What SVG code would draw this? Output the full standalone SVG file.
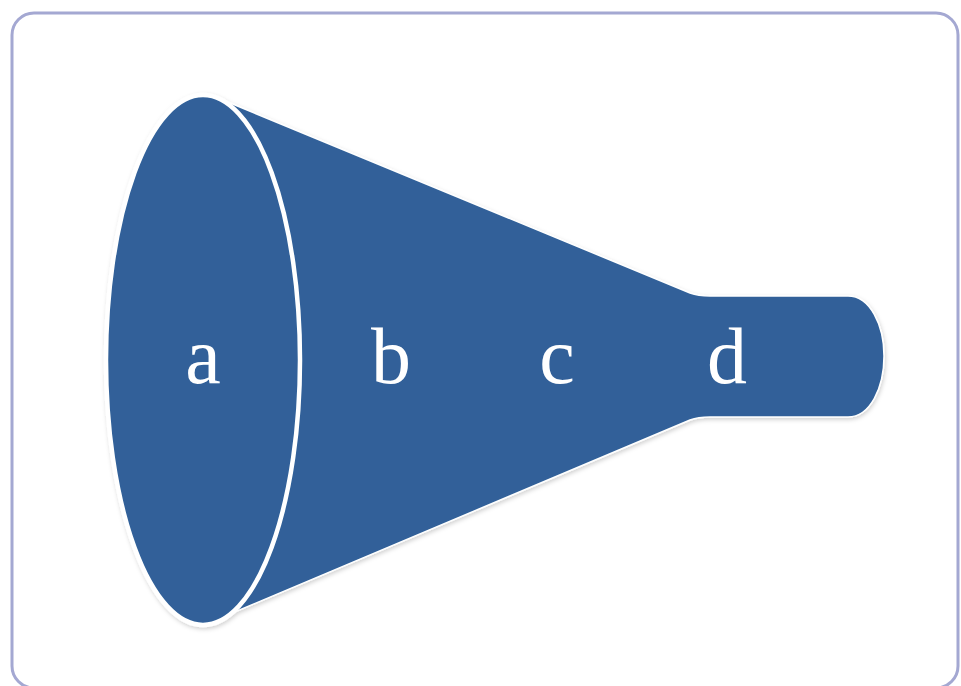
<svg xmlns="http://www.w3.org/2000/svg" width="961" height="686" viewBox="0 0 961 686">
<defs>
<style>
.lbl{font-family:"Liberation Serif","Times New Roman",serif;font-size:80px;fill:#ffffff;text-anchor:middle}
.body{fill:#306199}
</style>
<filter id="sh" x="-10%" y="-10%" width="120%" height="120%">
<feDropShadow dx="1" dy="2" stdDeviation="2" flood-color="#000" flood-opacity="0.18"/>
</filter>
</defs>
<rect x="12" y="13" width="946" height="675" rx="22" fill="#ffffff" stroke="#a4a8d2" stroke-width="3"/>
<g id="funnel" filter="url(#sh)">
<g id="cone">
<path class="body" d="M218,98 L690,293 Q698,296 710,296 L848,296 C870,296 884,325 884,356 C884,388 870,417 848,417 L710,417 Q698,417 690,420 L230,614 Z" stroke="#ffffff" stroke-width="1.5"/>
</g>
<g id="mouth">
<ellipse class="body" cx="203" cy="360" rx="97" ry="265" stroke="#ffffff" stroke-width="4.5"/>
</g>
</g>
<g id="labels">
<text class="lbl" x="203" y="383">a</text>
<text class="lbl" x="391" y="383">b</text>
<text class="lbl" x="557" y="383">c</text>
<text class="lbl" x="727" y="383">d</text>
</g>
</svg>
